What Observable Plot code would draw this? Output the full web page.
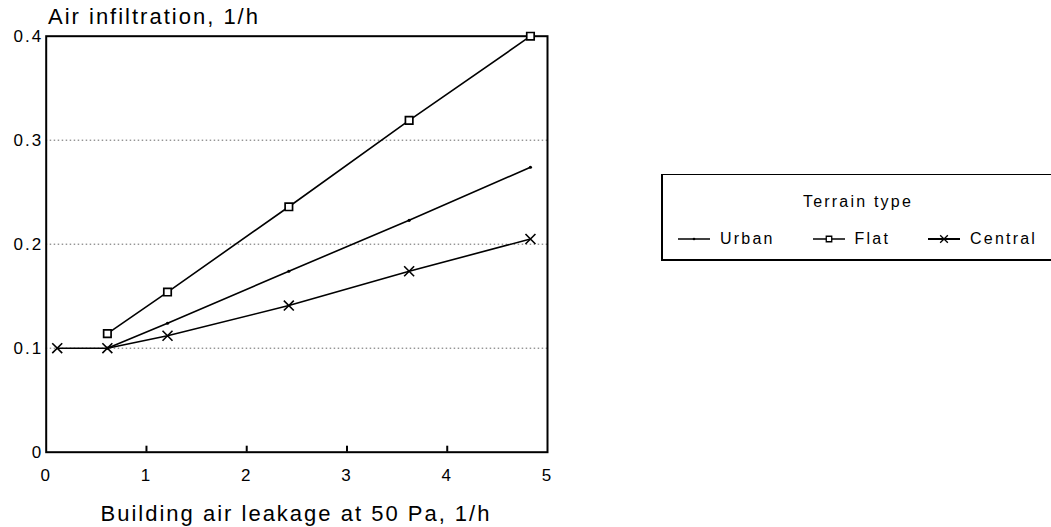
<!DOCTYPE html>
<html>
<head>
<meta charset="utf-8">
<script src="https://cdn.jsdelivr.net/npm/d3@7"></script>
<script src="https://cdn.jsdelivr.net/npm/@observablehq/plot@0.6"></script>
<style>
  html, body { margin: 0; padding: 0; background: #fff; overflow: hidden; }
  #wrap { position: relative; width: 1051px; height: 527px; font-family: "Liberation Sans", Arial, sans-serif; color: #000; }
  #chart { position: absolute; left: 0; top: 0; }
  .ttl { position: absolute; white-space: nowrap; font-size: 22px; line-height: 22px; letter-spacing: 2px; }
  #legend { position: absolute; left: 661px; top: 174px; width: 430px; height: 87px; box-sizing: border-box;
            border: 2px solid #000; border-top-width: 1.5px; font-size: 16px; line-height: 16px; letter-spacing: 2.2px; }
  #legend .lt { position: absolute; left: 0; width: 390px; top: 19px; text-align: center; white-space: nowrap; }
  #legend .items { position: absolute; left: 15px; top: 56px; display: flex; align-items: center; gap: 38px; white-space: nowrap; }
  #legend .item { display: flex; align-items: center; }
  #legend svg { margin-right: 10px; }
</style>
</head>
<body>
<div id="wrap">
  <div id="chart"></div>
  <div class="ttl" id="title" style="left:48px; top:6px;"></div>
  <div class="ttl" id="xlabel" style="left:296px; top:503px; transform: translateX(-50%);"></div>
  <div id="legend"><div class="lt" id="legendTitle"></div><div class="items" id="legendItems"></div></div>
</div>
<script>
// ---- data ----
const titleText = "Air infiltration, 1/h";
const xLabelText = "Building air leakage at 50 Pa, 1/h";
const legendTitleText = "Terrain type";
const seriesNames = ["Urban", "Flat", "Central"];

const urbanX = [0.61, 1.21, 2.42, 3.62, 4.83];
const urbanY = [0.100, 0.124, 0.174, 0.223, 0.274];
const flatX = [0.61, 1.21, 2.42, 3.62, 4.83];
const flatY = [0.114, 0.154, 0.236, 0.319, 0.400];
const centralX = [0.11, 0.61, 1.21, 2.42, 3.62, 4.83];
const centralY = [0.100, 0.100, 0.112, 0.141, 0.174, 0.205];

const xTicks = [0, 1, 2, 3, 4, 5];
const xTickLabels = ["0", "1", "2", "3", "4", "5"];
const xInnerTicks = [1, 2, 3, 4];
const yTicks = [0, 0.1, 0.2, 0.3, 0.4];
const yTickLabels = ["0", "0.1", "0.2", "0.3", "0.4"];
const gridY = [0.1, 0.2, 0.3];

// ---- build table ----
const toRows = (name, xs, ys) => xs.map((x, i) => ({series: name, x, y: ys[i]}));
const urbanRows = toRows("Urban", urbanX, urbanY);
const flatRows = toRows("Flat", flatX, flatY);
const centralRows = toRows("Central", centralX, centralY);
const rows = [...urbanRows, ...flatRows, ...centralRows];

const chart = Plot.plot({
  width: 1051,
  height: 527,
  marginLeft: 45.7,
  marginRight: 504,
  marginTop: 35.7,
  marginBottom: 75.3,
  x: {domain: [0, 5]},
  y: {domain: [0, 0.4]},
  style: {fontFamily: "'Liberation Sans', Arial, sans-serif", fontSize: "17px", color: "#000", background: "#fff", letterSpacing: "2px"},
  marks: [
    Plot.ruleY(gridY, {stroke: "#666", strokeDasharray: "1.5,2.5", strokeWidth: 1}),
    Plot.frame({stroke: "#000", strokeWidth: 2}),
    Plot.axisY(yTicks, {tickSize: 0, tickPadding: 3, tickFormat: d => yTickLabels[yTicks.indexOf(d)], label: null}),
    Plot.axisX(xTicks, {tickSize: 0, tickPadding: 17, tickFormat: d => xTickLabels[xTicks.indexOf(d)], label: null}),
    Plot.axisX(xInnerTicks, {anchor: "bottom", tickSize: 6, dy: -6, strokeWidth: 2, stroke: "#000", tickFormat: () => "", label: null}),
    Plot.line(rows, {x: "x", y: "y", z: "series", stroke: "#000", strokeWidth: 1.6}),
    Plot.dot(urbanRows, {x: "x", y: "y", r: 1.6, fill: "#000"}),
    Plot.dot(flatRows, {x: "x", y: "y", symbol: "square", r: 4.2, stroke: "#000", fill: "#fff", strokeWidth: 1.7}),
    Plot.dot(centralRows, {x: "x", y: "y", symbol: "times", r: 4.6, stroke: "#000", strokeWidth: 1.6})
  ]
});
document.getElementById("chart").appendChild(chart);
document.getElementById("title").textContent = titleText;
document.getElementById("xlabel").textContent = xLabelText;
document.getElementById("legendTitle").textContent = legendTitleText;

// ---- legend ----
const glyphs = {
  Urban: g => g.append("circle").attr("cx", 16).attr("cy", 8).attr("r", 1.3).attr("fill", "#000"),
  Flat: g => g.append("path").attr("transform", "translate(16,8)").attr("d", d3.symbol(d3.symbolSquare, 30)()).attr("fill", "#fff").attr("stroke", "#000").attr("stroke-width", 1.3),
  Central: g => g.append("path").attr("transform", "translate(16,8)").attr("d", d3.symbol(d3.symbolTimes, 40)()).attr("fill", "none").attr("stroke", "#000").attr("stroke-width", 1.3)
};
const items = d3.select("#legendItems");
for (const name of seriesNames) {
  const it = items.append("div").attr("class", "item");
  const s = it.append("svg").attr("width", 32).attr("height", 16);
  s.append("line").attr("x1", 0).attr("x2", 32).attr("y1", 8).attr("y2", 8).attr("stroke", "#000").attr("stroke-width", name === "Central" ? 2 : 1.5);
  glyphs[name](s);
  it.append("span").text(name);
}
</script>
</body>
</html>
